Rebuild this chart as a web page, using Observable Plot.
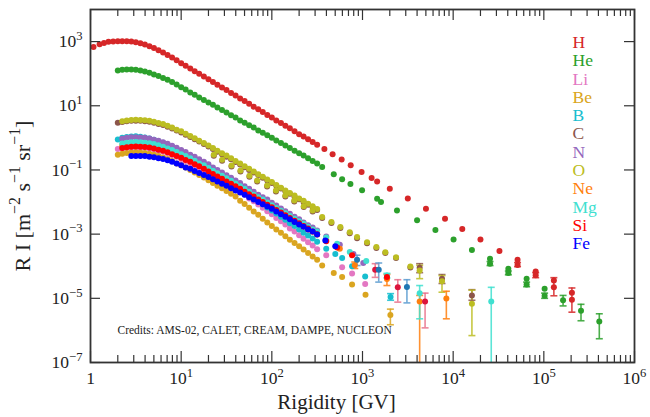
<!DOCTYPE html>
<html><head><meta charset="utf-8">
<script src="https://cdn.jsdelivr.net/npm/d3@7"></script>
<script src="https://cdn.jsdelivr.net/npm/@observablehq/plot@0.6"></script>
<style>body{margin:0;background:#fff}</style>
</head><body><div id="chart"></div>
<script>
// ---------------- data ----------------
const species = ["H","He","Li","Be","B","C","N","O","Ne","Mg","Si","Fe"];
const speciesColors = ["#d62728","#2ca02c","#e377c2","#daa520","#17becf","#8c564b","#9467bd","#bcbd22","#ff7f0e","#40e0d0","#ff0000","#0000ff"];
const xTickLabels = [1, 10, 100, 1e3, 1e4, 1e5, 1e6];
const yTickLabels = [1e3, 1e1, 1e-1, 1e-3, 1e-5, 1e-7];
const credits = "Credits: AMS-02, CALET, CREAM, DAMPE, NUCLEON";

// common rigidity grid (GV) of the dense low-energy data
const R_grid = [2.00,2.24,2.51,2.82,3.16,3.55,3.98,4.47,5.01,5.62,6.31,7.08,7.94,8.91,10.0,11.2,12.6,14.1,15.8,17.8,20.0,22.4,25.1,28.2,31.6,35.5,39.8,44.7,50.1,56.2,63.1,70.8,79.4,89.1,100,112,126,141,158,178,200,224,251,282,316];

const H_low_R = [1.08,1.26,1.41,1.58,1.78];
const H_low_v = [680,830,910,980,1000];
const H_dense = [1020,1020,1020,1000,955,890,810,720,630,540,460,380,320,260,210,178,146,120,99,81,67,55,45,37,31,25,21,17,14,11.5,9.4,7.8,6.4,5.2,4.3,3.5,2.9,2.4,2.0,1.6,1.3,1.1,0.90,0.74,0.61];
const H_sparse = [[380,0.45],[468,0.31],[589,0.21],[741,0.14],[977,0.087],[1260,0.056],[1450,0.044],[2000,0.026],[3160,0.013],[5010,0.0062],[8130,0.0030],[12600,0.00145],[20000,6.8e-4],[32400,3.0e-4],[51300,1.6e-4],[81300,6.8e-5],[129000,3.6e-5],[204000,1.5e-5]];
const H_err = [[51300,1.1e-4,9.7e-5,1.3e-4],[81300,5.2e-5,4.4e-5,6.3e-5],[129000,2.2e-5,1.2e-5,4.4e-5],[204000,9.1e-6,3.7e-6,2.1e-5]];

const He_dense = [126,132,135,135,132,126,117,107,95,85,74,65,55,46,38,32,26,22,18,15,12.6,10.7,8.9,7.4,6.2,5.1,4.3,3.5,2.95,2.45,2.1,1.7,1.45,1.20,1.00,0.83,0.69,0.58,0.48,0.40,0.33,0.28,0.23,0.19,0.16];
const He_sparse = [[359,0.123],[482,0.0741],[596,0.0513],[736,0.0363],[989,0.0234],[1450,0.0126],[1600,0.010],[2400,0.0055],[4000,0.00269],[6370,0.00135],[10100,6.8e-4],[16100,3.2e-4],[25500,1.7e-4],[40600,8.3e-5],[64600,4.1e-5],[102000,2.0e-5]];
const He_err = [[25500,1.2e-4,1.05e-4,1.4e-4],[40600,6.2e-5,5.4e-5,7.1e-5],[64600,2.7e-5,2.3e-5,3.2e-5],[102000,1.2e-5,1.0e-5,1.45e-5],[163000,8.7e-6,5.8e-6,1.23e-5],[257000,4.1e-6,2.0e-6,6.5e-6],[409000,1.9e-6,5.5e-7,3.3e-6]];

const Li_dense = [0.45,0.47,0.48,0.50,0.50,0.50,0.49,0.47,0.44,0.40,0.37,0.33,0.29,0.26,0.22,0.19,0.16,0.14,0.115,0.097,0.080,0.067,0.055,0.046,0.038,0.032,0.026,0.021,0.017,0.013,0.0105,0.0084,0.0066,0.0052,0.0042,0.0032,0.0025,0.0020,0.0015,0.0012,9.3e-4,7.2e-4,5.6e-4,4.4e-4,3.4e-4];
const Li_sparse = [[398,2.2e-4],[596,9.3e-5],[767,5.9e-5],[1070,2.8e-5]];

const Be_dense = [0.30,0.32,0.34,0.35,0.355,0.35,0.34,0.32,0.30,0.27,0.245,0.22,0.19,0.16,0.14,0.12,0.100,0.084,0.070,0.058,0.048,0.039,0.032,0.027,0.022,0.018,0.015,0.011,0.0087,0.0066,0.0051,0.0040,0.0030,0.0023,0.0018,0.0014,0.0011,8.6e-4,6.7e-4,5.3e-4,4.2e-4,3.3e-4,2.6e-4,2.0e-4,1.6e-4];
const Be_sparse = [[359,1.05e-4],[482,6.2e-5],[596,4.6e-5],[767,2.7e-5],[1080,1.3e-5]];
const Be_err = [[2030,3.0e-6,1.5e-6,4.6e-6]];

const B_dense = [0.89,1.01,1.07,1.11,1.12,1.08,1.03,0.96,0.88,0.79,0.70,0.61,0.53,0.45,0.38,0.31,0.26,0.21,0.18,0.14,0.12,0.094,0.076,0.061,0.050,0.040,0.032,0.026,0.021,0.017,0.013,0.011,0.0086,0.0068,0.0055,0.0044,0.0035,0.0028,0.0022,0.0018,0.0014,0.0011,9.1e-4,7.3e-4,5.8e-4];
const B_sparse = [[398,3.5e-4],[501,2.4e-4],[596,1.8e-4],[767,1.0e-4],[1070,4.8e-5]];
const B_err = [[2040,1.1e-5,8.7e-6,1.4e-5]];

const C_dense = [2.95,3.1,3.3,3.4,3.4,3.4,3.3,3.2,2.95,2.7,2.5,2.2,1.95,1.70,1.46,1.26,1.07,0.91,0.77,0.645,0.537,0.447,0.371,0.309,0.257,0.214,0.178,0.147,0.121,0.0998,0.0831,0.0691,0.0569,0.0467,0.0389,0.0320,0.0263,0.0218,0.0180,0.0147,0.0123,0.0101,0.0083,0.0069,0.0057];
const C_sparse = [[22.9,0.277],[28.3,0.193],[35.9,0.129],[45.1,0.0901],[56.6,0.0617],[68.9,0.0439],[88.7,0.0307],[111,0.0215],[141,0.0150],[177,0.0104],[225,0.00695],[282,0.0051],[359,0.00316],[454,0.00221],[570,0.00155],[723,0.00107],[871,7.5e-4],[1122,5.2e-4],[1422,3.7e-4],[1786,2.6e-4],[2344,1.8e-4],[3373,9.1e-5]];
const C_err = [[4270,8.9e-5,6.3e-5,1.2e-4],[7530,4.1e-5,2.9e-5,5.5e-5],[16100,1.23e-5,8.7e-6,1.86e-5]];

const N_dense = [null,0.94,1.00,1.04,1.05,1.03,1.00,0.95,0.88,0.81,0.73,0.65,0.57,0.49,0.42,0.36,0.30,0.26,0.215,0.18,0.15,0.12,0.10,0.083,0.069,0.057,0.047,0.039,0.031,0.026,0.021,0.017,0.014,0.012,0.0095,0.0078,0.0063,0.0052,0.0043,0.0035,0.0029,0.0023,0.0019,0.0016,0.0013];
const N_sparse = [[398,8.5e-4],[562,4.7e-4],[794,2.4e-4],[1020,1.26e-4],[1860,4.5e-5]];

const O_dense = [null,3.3,3.5,3.6,3.7,3.6,3.55,3.4,3.2,2.9,2.7,2.4,2.1,1.8,1.6,1.35,1.15,0.98,0.82,0.69,0.58,0.48,0.40,0.33,0.28,0.23,0.19,0.16,0.13,0.11,0.089,0.074,0.061,0.050,0.042,0.034,0.028,0.023,0.019,0.016,0.013,0.011,0.0089,0.0074,0.0061];
const O_sparse = [[22.9,0.297],[28.3,0.207],[35.9,0.138],[45.1,0.0966],[56.6,0.0661],[68.9,0.0471],[88.7,0.0329],[111,0.0230],[141,0.0161],[177,0.0112],[225,0.00745],[282,0.00547],[359,0.00339],[454,0.00237],[570,0.00166],[723,0.00115],[871,8.07e-4],[1122,5.62e-4],[1422,3.98e-4],[1786,2.75e-4],[2344,1.91e-4],[3373,9.8e-5]];
const O_err = [[4270,7.4e-5,4.1e-5,1.07e-4],[7530,3.4e-5,1.55e-5,5.1e-5],[16100,6.8e-6,6.9e-7,1.8e-5]];

const Ne_dense = [null,0.58,0.61,0.63,0.64,0.63,0.61,0.58,0.54,0.50,0.46,0.41,0.36,0.31,0.27,0.23,0.19,0.165,0.14,0.12,0.097,0.080,0.067,0.055,0.046,0.038,0.032,0.026,0.0215,0.018,0.015,0.012,0.0099,0.0081,0.0068,0.0055,0.0046,0.0038,0.0031,0.0025,0.0021,0.0017,0.0014,0.0012,9.7e-4];
const Ne_sparse = [[398,6.6e-4],[562,3.5e-4]];
const Ne_err = [[822,1.07e-4,8.5e-5,1.35e-4],[1860,4.0e-5,2.5e-5,5.6e-5],[4270,7.9e-6,1e-8,1.23e-5],[8410,9.8e-6,2.3e-6,1.66e-5]];

const Mg_dense = [null,0.67,0.71,0.73,0.74,0.73,0.71,0.68,0.64,0.59,0.53,0.47,0.42,0.36,0.31,0.27,0.23,0.195,0.16,0.14,0.115,0.095,0.079,0.066,0.055,0.046,0.038,0.031,0.026,0.021,0.017,0.014,0.012,0.0096,0.0079,0.0065,0.0054,0.0045,0.0037,0.0030,0.0025,0.0021,0.0017,0.0014,0.0012];
const Mg_sparse = [[398,7.9e-4],[525,5.0e-4],[724,2.8e-4],[1100,1.45e-4]];
const Mg_err = [[1860,5.1e-5,4.3e-5,6.0e-5],[4270,1.45e-5,2.3e-6,2.5e-5],[26300,7.9e-6,1e-8,2.2e-5]];

const Si_dense = [null,0.48,0.51,0.53,0.54,0.53,0.52,0.50,0.47,0.43,0.40,0.355,0.31,0.27,0.24,0.205,0.18,0.15,0.13,0.11,0.090,0.075,0.063,0.053,0.044,0.037,0.031,0.026,0.021,0.0175,0.015,0.012,0.010,0.0083,0.0069,0.0057,0.0047,0.0039,0.0032,0.0026,0.0022,0.0018,0.0015,0.0012,0.0010];
const Si_sparse = [[398,6.0e-4],[525,3.8e-4],[767,2.2e-4],[1860,4.6e-5]];
const Si_err = [[1380,7.8e-5,4.5e-5,1.2e-4],[2450,2.2e-5,7.6e-6,3.8e-5],[4900,7.9e-6,1.2e-6,1.45e-5]];

const Fe_dense = [null,null,null,0.27,0.27,0.27,0.27,0.26,0.25,0.23,0.22,0.20,0.18,0.16,0.14,0.12,0.11,0.093,0.080,0.070,0.060,0.051,0.044,0.037,0.032,0.027,0.023,0.020,0.017,0.014,0.012,0.010,0.0086,0.0072,0.0062,0.0051,0.0042,0.0035,0.0029,0.0024,0.0020,0.0017,0.0014,0.0012,9.7e-4];
const Fe_sparse = [[389,6.3e-4],[501,4.2e-4]];
const Fe_err = [[871,1.6e-4,1.05e-4,2.2e-4],[1510,7.8e-5,3.2e-5,1.26e-4],[3090,2.24e-5,7.2e-6,3.8e-5]];

// ---------------- build tables ----------------
const colorOf = Object.fromEntries(species.map((s, i) => [s, speciesColors[i]]));
const errStyle = { // high-energy points drawn in a slightly different shade
  Si: {dot: "#dc143c", bar: "#e8708a"},
  Fe: {dot: "#1f77b4", bar: "#5a9bd0"}
};
const points = [], errs = [];
function addGrid(sp, grid, vals) { vals.forEach((v, i) => { if (v != null) points.push({sp, R: grid[i], v, color: colorOf[sp]}); }); }
function addPairs(sp, pairs, color) { pairs.forEach(([R, v]) => points.push({sp, R, v, color: color || colorOf[sp]})); }
function addErr(sp, list) {
  const st = errStyle[sp] || {dot: colorOf[sp], bar: colorOf[sp]};
  list.forEach(([R, v, lo, hi]) => {
    errs.push({sp, R, v, lo, hi, bar: st.bar});
    points.push({sp, R, v, color: st.dot});
  });
}
addGrid("H", H_low_R, H_low_v); addGrid("H", R_grid, H_dense); addPairs("H", H_sparse); addErr("H", H_err);
addGrid("He", R_grid, He_dense); addPairs("He", He_sparse); addErr("He", He_err);
addGrid("Li", R_grid, Li_dense); addPairs("Li", Li_sparse);
addGrid("Be", R_grid, Be_dense); addPairs("Be", Be_sparse); addErr("Be", Be_err);
addGrid("B", R_grid, B_dense); addPairs("B", B_sparse); addErr("B", B_err);
addGrid("C", R_grid, C_dense);
addGrid("N", R_grid, N_dense); addPairs("N", N_sparse);
addGrid("O", R_grid, O_dense);
addPairs("C", C_sparse); addErr("C", C_err);
addPairs("O", O_sparse); addErr("O", O_err);
addGrid("Ne", R_grid, Ne_dense); addPairs("Ne", Ne_sparse); addErr("Ne", Ne_err);
addGrid("Mg", R_grid, Mg_dense); addPairs("Mg", Mg_sparse); addErr("Mg", Mg_err);
addGrid("Si", R_grid, Si_dense); addPairs("Si", Si_sparse); addErr("Si", Si_err);
addGrid("Fe", R_grid, Fe_dense); addPairs("Fe", Fe_sparse); addErr("Fe", Fe_err);

const caps = errs.flatMap(d => [{R: d.R, y: d.lo, bar: d.bar}, {R: d.R, y: d.hi, bar: d.bar}]);
const capSymbol = {draw(ctx, size) { const w = Math.sqrt(size / Math.PI); ctx.moveTo(-w, 0); ctx.lineTo(w, 0); }};

// ---------------- layout ----------------
const W = 650, Hh = 417, mL = 90, mR = 16, mT = 9, mB = 55;
const innerW = W - mL - mR, innerH = Hh - mT - mB;
const xAll = d3.scaleLog().domain([1, 1e6]).ticks();
const xMajor = xAll.filter(d => xTickLabels.includes(d));
const xMinor = xAll.filter(d => !xTickLabels.includes(d));
const axisColor = "#333";
const fmt = d => d === 1 ? "1" : "10^" + String(Math.round(Math.log10(d))).replace("-", "−");

const legendMarks = species.map((s, i) => Plot.text([s], {
  frameAnchor: "top-left", dx: 482, dy: 26 + i * 18.3, textAnchor: "start", fill: speciesColors[i], fontSize: 17.5
}));

const chart = Plot.plot({
  width: W, height: Hh,
  marginLeft: mL, marginRight: mR, marginTop: mT, marginBottom: mB,
  x: {type: "log", domain: [1, 1e6]},
  y: {type: "log", domain: [1e-7, 1e4]},
  color: {type: "identity"},
  style: {fontFamily: "'Liberation Serif', serif", background: "#fff", color: "#222"},
  marks: [
    Plot.ruleX(errs, {x: "R", y1: "lo", y2: "hi", stroke: "bar", strokeWidth: 1.6, strokeOpacity: 0.85, clip: true}),
    Plot.dot(caps, {x: "R", y: "y", symbol: capSymbol, r: 3.5, stroke: "bar", strokeWidth: 1.6, strokeOpacity: 0.85, fill: "none", clip: true}),
    Plot.dot(points, {x: "R", y: "v", r: 3, fill: "color", clip: true}),
    // inward ticks on all four sides
    Plot.tickX(xMajor, {x: d => d, insetTop: innerH - 11, stroke: axisColor, strokeWidth: 1.2}),
    Plot.tickX(xMinor, {x: d => d, insetTop: innerH - 7, stroke: axisColor, strokeWidth: 1.2}),
    Plot.tickX(xMajor, {x: d => d, insetBottom: innerH - 11, stroke: axisColor, strokeWidth: 1.2}),
    Plot.tickX(xMinor, {x: d => d, insetBottom: innerH - 7, stroke: axisColor, strokeWidth: 1.2}),
    Plot.tickY(yTickLabels, {y: d => d, insetRight: innerW - 10, stroke: axisColor, strokeWidth: 1.2}),
    Plot.tickY(yTickLabels, {y: d => d, insetLeft: innerW - 10, stroke: axisColor, strokeWidth: 1.2}),
    Plot.frame({stroke: axisColor, strokeWidth: 1.8}),
    Plot.axisX({ticks: xTickLabels, tickSize: 0, tickPadding: 9, tickFormat: fmt, fontSize: 17.5, label: null}),
    Plot.axisY({ticks: yTickLabels, tickSize: 0, tickPadding: 8, tickFormat: fmt, fontSize: 17.5, label: null}),
    Plot.text(["Rigidity [GV]"], {frameAnchor: "bottom", dx: -26, dy: 46, fontSize: 21, textAnchor: "middle"}),
    Plot.text(["R I [m^−2 s^−1 sr^−1]"], {frameAnchor: "left", dx: -68, dy: 10, rotate: -90, fontSize: 22, textAnchor: "middle"}),
    Plot.text([credits], {frameAnchor: "bottom-left", dx: 27, dy: -29, textAnchor: "start", fontSize: 11.5}),
    ...legendMarks
  ]
});
document.getElementById("chart").appendChild(chart);

// superscripts for "10^n" style labels
d3.select(chart).selectAll("text").each(function() {
  const el = this, t = el.textContent;
  if (!t.includes("^")) return;
  const fs = parseFloat(getComputedStyle(el).fontSize) || 17;
  const parts = t.split(/\^([−\-]?\d+)/);
  el.textContent = "";
  const up = 0.42 * fs;
  let raised = false;
  parts.forEach((p, k) => {
    if (!p) return;
    const ts = document.createElementNS("http://www.w3.org/2000/svg", "tspan");
    ts.textContent = p;
    if (k % 2 === 1) { ts.setAttribute("dy", -up); ts.setAttribute("font-size", 0.72 * fs); raised = true; }
    else if (raised) { ts.setAttribute("dy", up); raised = false; }
    el.appendChild(ts);
  });
});
</script></body></html>
